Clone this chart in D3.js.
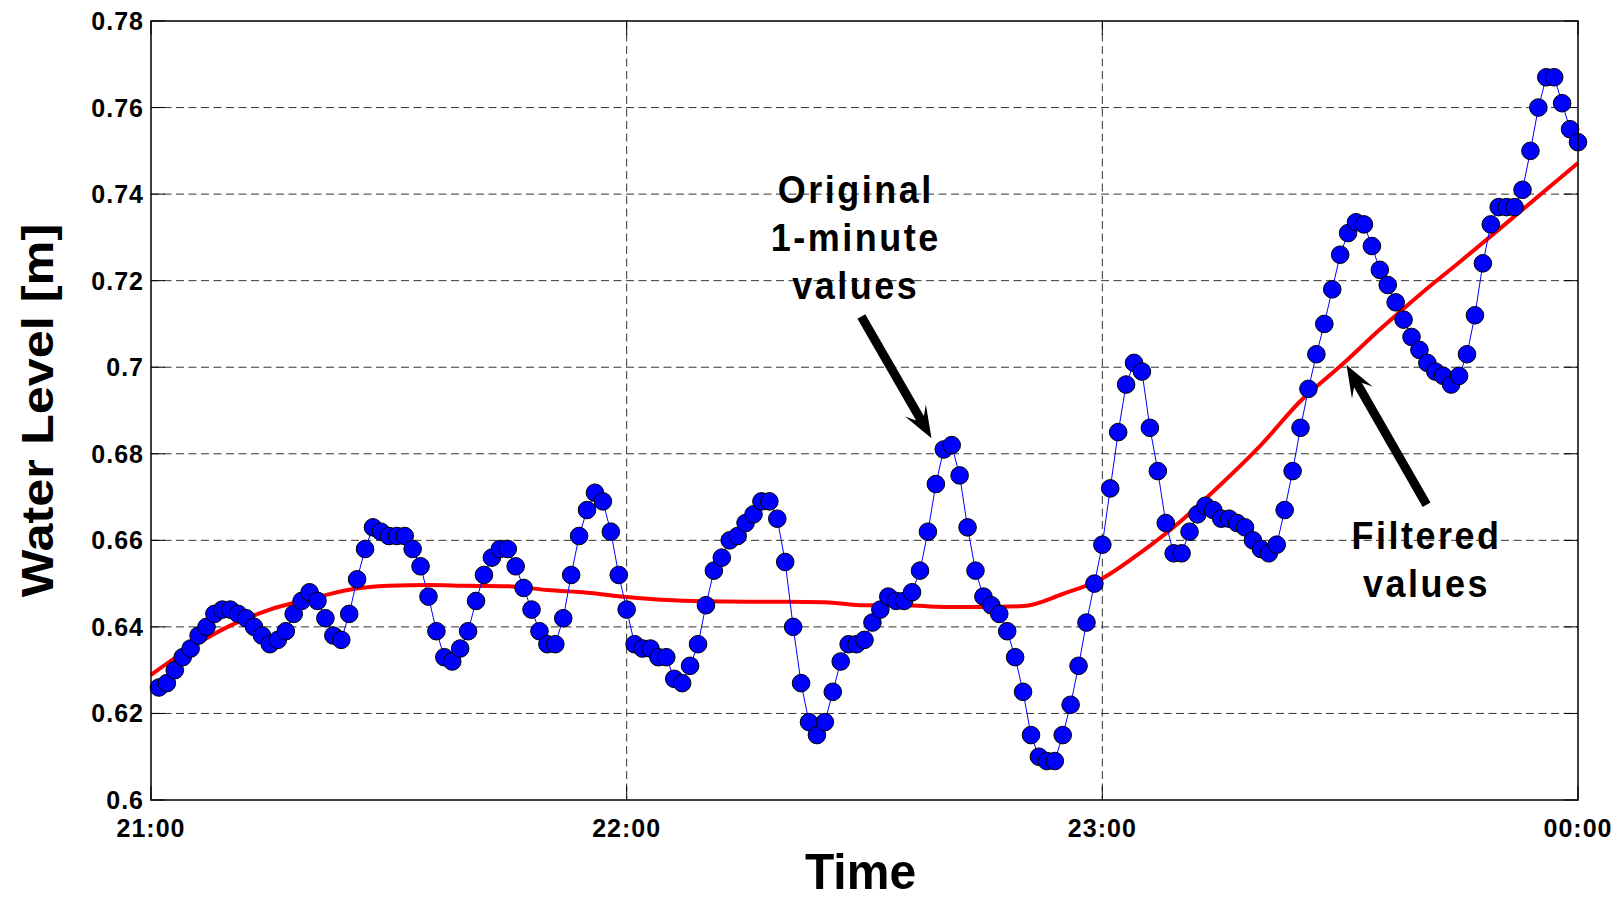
<!DOCTYPE html>
<html><head><meta charset="utf-8">
<script src="https://cdn.jsdelivr.net/npm/d3@7"></script>
<style>
body{margin:0;background:#fff}
svg{display:block}
text{font-family:"Liberation Sans",Arial,Helvetica,sans-serif;font-weight:bold;fill:#000}
</style>
</head><body>
<svg id="chart" width="1621" height="898"></svg>
<script>
// ---- data ----
const xTickMinutes = [0, 60, 120, 180];
const xTickLabels = ["21:00", "22:00", "23:00", "00:00"];
const yTicks = [0.6, 0.62, 0.64, 0.66, 0.68, 0.7, 0.72, 0.74, 0.76, 0.78];
const yTickLabels = ["0.6", "0.62", "0.64", "0.66", "0.68", "0.7", "0.72", "0.74", "0.76", "0.78"];

// original 1-minute values, 21:01 ... 00:00
const originalValues = [
  0.626,0.627,0.630,0.633,0.635,0.638,0.640,0.643,0.644,0.644,
  0.643,0.642,0.640,0.638,0.636,0.637,0.639,0.643,0.646,0.648,
  0.646,0.642,0.638,0.637,0.643,0.651,0.658,0.663,0.662,0.661,
  0.661,0.661,0.658,0.654,0.647,0.639,0.633,0.632,0.635,0.639,
  0.646,0.652,0.656,0.658,0.658,0.654,0.649,0.644,0.639,0.636,
  0.636,0.642,0.652,0.661,0.667,0.671,0.669,0.662,0.652,0.644,
  0.636,0.635,0.635,0.633,0.633,0.628,0.627,0.631,0.636,0.645,
  0.653,0.656,0.660,0.661,0.664,0.666,0.669,0.669,0.665,0.655,
  0.640,0.627,0.618,0.615,0.618,0.625,0.632,0.636,0.636,0.637,
  0.641,0.644,0.647,0.646,0.646,0.648,0.653,0.662,0.673,0.681,
  0.682,0.675,0.663,0.653,0.647,0.645,0.643,0.639,0.633,0.625,
  0.615,0.610,0.609,0.609,0.615,0.622,0.631,0.641,0.650,0.659,
  0.672,0.685,0.696,0.701,0.699,0.686,0.676,0.664,0.657,0.657,
  0.662,0.666,0.668,0.667,0.665,0.665,0.664,0.663,0.660,0.658,
  0.657,0.659,0.667,0.676,0.686,0.695,0.703,0.710,0.718,0.726,
  0.731,0.7335,0.733,0.728,0.7225,0.719,0.715,0.711,0.707,0.704,
  0.701,0.699,0.698,0.696,0.698,0.703,0.712,0.724,0.733,0.737,
  0.737,0.737,0.741,0.750,0.760,0.767,0.767,0.761,0.755,0.752
];
const originalMinutes = d3.range(1, originalValues.length + 1);

// filtered values, read every 5 minutes
const filteredMinutes = [0,5,10,15,20,25,30,35,40,45,50,55,60,65,70,75,80,85,90,
  95,100,105,110,115,120,125,130,135,140,145,150,155,160,165,170,175,180];
const filteredValues = [0.6289,0.6352,0.6403,0.6440,0.6464,0.6486,0.6495,0.6497,0.6495,
  0.6494,0.6485,0.6479,0.6469,0.6462,0.6459,0.6458,0.6458,0.6457,0.6450,0.6450,0.6446,
  0.6446,0.6448,0.6476,0.6512,0.6574,0.6646,0.6730,0.6820,0.6922,0.7002,0.7087,0.7167,
  0.7242,0.7318,0.7395,0.7472];

// annotations (in data coordinates: minutes, metres)
const annotations = [
  {lines: ["Original", "1-minute", "values"], m: 88.9, v: 0.7379,
   arrow: {m1: 89.6, v1: 0.7117, m2: 98.45, v2: 0.6836}},
  {lines: ["Filtered", "values"], m: 160.9, v: 0.6580,
   arrow: {m1: 160.9, v1: 0.6682, m2: 150.8, v2: 0.7005}}
];

// ---- layout ----
const W = 1621, H = 898;
const L = 151, R = 1578, T = 21, B = 800;
const svg = d3.select("#chart");
const x = d3.scaleLinear().domain([0, 180]).range([L, R]);
const y = d3.scaleLinear().domain([0.6, 0.78]).range([B, T]);

// grid
const g = svg.append("g");
g.selectAll(".hg").data(yTicks.slice(1, -1)).join("line")
  .attr("x1", L).attr("x2", R).attr("y1", d => y(d)).attr("y2", d => y(d))
  .attr("stroke", "#333").attr("stroke-width", 1).attr("stroke-dasharray", "8,4.5");
g.selectAll(".vg").data(xTickMinutes.slice(1, -1)).join("line")
  .attr("y1", T).attr("y2", B).attr("x1", d => x(d)).attr("x2", d => x(d))
  .attr("stroke", "#333").attr("stroke-width", 1).attr("stroke-dasharray", "8,4.5");

// inward ticks
const tl = 14;
yTicks.forEach(d => {
  g.append("line").attr("x1", L).attr("x2", L + tl).attr("y1", y(d)).attr("y2", y(d)).attr("stroke", "#000");
  g.append("line").attr("x1", R - tl).attr("x2", R).attr("y1", y(d)).attr("y2", y(d)).attr("stroke", "#000");
});
xTickMinutes.forEach(d => {
  g.append("line").attr("x1", x(d)).attr("x2", x(d)).attr("y1", B).attr("y2", B - tl).attr("stroke", "#000");
  g.append("line").attr("x1", x(d)).attr("x2", x(d)).attr("y1", T).attr("y2", T + tl).attr("stroke", "#000");
});

// filtered line
svg.append("path")
  .datum(filteredMinutes.map((m, i) => [m, filteredValues[i]]))
  .attr("fill", "none").attr("stroke", "#ff0000").attr("stroke-width", 4)
  .attr("stroke-linejoin", "round")
  .attr("d", d3.line().x(d => x(d[0])).y(d => y(d[1])).curve(d3.curveMonotoneX));

// original line + markers
const orig = originalMinutes.map((m, i) => [m, originalValues[i]]);
svg.append("path").datum(orig)
  .attr("fill", "none").attr("stroke", "#0000ff").attr("stroke-width", 1)
  .attr("d", d3.line().x(d => x(d[0])).y(d => y(d[1])));
svg.append("g").selectAll("circle").data(orig).join("circle")
  .attr("cx", d => x(d[0])).attr("cy", d => y(d[1])).attr("r", 8.8)
  .attr("fill", "#0000ff").attr("stroke", "#000").attr("stroke-width", 1);

// axes box
svg.append("rect").attr("x", L).attr("y", T).attr("width", R - L).attr("height", B - T)
  .attr("fill", "none").attr("stroke", "#000").attr("stroke-width", 1.5);

// tick labels
svg.append("g").selectAll("text").data(yTicks).join("text")
  .attr("x", L - 7).attr("y", d => y(d)).attr("dy", "0.36em")
  .attr("text-anchor", "end").attr("font-size", 25).attr("letter-spacing", 1)
  .text((d, i) => yTickLabels[i]);
svg.append("g").selectAll("text").data(xTickMinutes).join("text")
  .attr("x", d => x(d)).attr("y", 837)
  .attr("text-anchor", "middle").attr("font-size", 25).attr("letter-spacing", 1)
  .text((d, i) => xTickLabels[i]);

// axis titles
svg.append("text").attr("transform", `translate(${(L + R) / 2 - 4},889) scale(1,1.06)`)
  .attr("text-anchor", "middle").attr("font-size", 48).text("Time");
svg.append("text").attr("transform", `translate(53,${(T + B) / 2}) rotate(-90) scale(1.12,1)`)
  .attr("text-anchor", "middle").attr("font-size", 45).text("Water Level [m]");

// annotations
function arrowPath(x1, y1, x2, y2) {
  const dx = x2 - x1, dy = y2 - y1, len = Math.hypot(dx, dy);
  const ux = dx / len, uy = dy / len, nx = -uy, ny = ux;
  const w = 4.5, HL = 32, HW = 12, notch = 9;
  const bx = x2 - ux * (HL - notch), by = y2 - uy * (HL - notch);
  const hx = x2 - ux * HL, hy = y2 - uy * HL;
  const pts = [
    [x1 + nx * w, y1 + ny * w], [bx + nx * w, by + ny * w], [hx + nx * HW, hy + ny * HW],
    [x2, y2], [hx - nx * HW, hy - ny * HW], [bx - nx * w, by - ny * w], [x1 - nx * w, y1 - ny * w]
  ];
  return "M" + pts.map(p => p.join(",")).join("L") + "Z";
}
annotations.forEach(a => {
  const t = svg.append("text")
    .attr("transform", `translate(${x(a.m)},${y(a.v)}) scale(1,1.08)`)
    .attr("text-anchor", "middle").attr("font-size", 36).attr("letter-spacing", 2.5);
  a.lines.forEach((s, i) => t.append("tspan").attr("x", 0).attr("y", i * 44.5).text(s));
  svg.append("path")
    .attr("d", arrowPath(x(a.arrow.m1), y(a.arrow.v1), x(a.arrow.m2), y(a.arrow.v2)))
    .attr("fill", "#000");
});
</script>
</body></html>
